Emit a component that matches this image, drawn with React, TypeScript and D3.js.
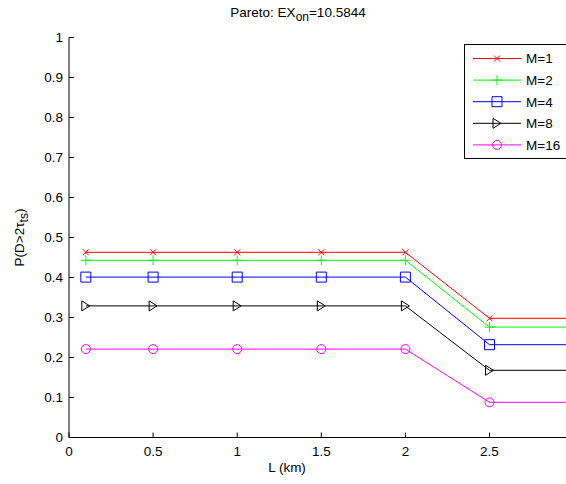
import React from 'react';
import * as d3 from 'd3';

// L (km)
const xValues = [0.1, 0.5, 1, 1.5, 2, 2.5, 3];
const seriesNames = ['M=1', 'M=2', 'M=4', 'M=8', 'M=16'];
const seriesM1 = [0.463, 0.463, 0.463, 0.463, 0.463, 0.298, 0.298];
const seriesM2 = [0.443, 0.443, 0.443, 0.443, 0.443, 0.276, 0.276];
const seriesM4 = [0.401, 0.401, 0.401, 0.401, 0.401, 0.232, 0.232];
const seriesM8 = [0.329, 0.329, 0.329, 0.329, 0.329, 0.168, 0.168];
const seriesM16 = [0.221, 0.221, 0.221, 0.221, 0.221, 0.088, 0.088];
const xTicks = [0, 0.5, 1, 1.5, 2, 2.5];
const yTicks = [0, 0.1, 0.2, 0.3, 0.4, 0.5, 0.6, 0.7, 0.8, 0.9, 1];

const colors = ['#ff0000', '#00ff00', '#0000ff', '#000000', '#ff00ff'];
const markers = ['x', 'plus', 'square', 'triangle', 'circle'];
const allSeries = [seriesM1, seriesM2, seriesM4, seriesM8, seriesM16];

const width = 566;
const height = 484;
const font = 'Arial, "Liberation Sans", Helvetica, sans-serif';
const fs = 13.5;

const markerPath = (kind: string) => {
  switch (kind) {
    case 'x':
      return 'M-3,-3L3,3M-3,3L3,-3';
    case 'plus':
      return 'M-5,0L5,0M0,-5L0,5';
    case 'square':
      return 'M-5,-5H5V5H-5Z';
    case 'triangle':
      return 'M-4,-5L4,0L-4,5Z';
    default:
      return 'M-4.5,0A4.5,4.5 0 1,0 4.5,0A4.5,4.5 0 1,0 -4.5,0';
  }
};

const Marker = ({ kind, color, x, y }: { kind: string; color: string; x: number; y: number }) => (
  <path d={markerPath(kind)} transform={`translate(${x},${y})`} fill="none" stroke={color} strokeWidth={1} />
);

export default function App() {
  const x = d3.scaleLinear().domain([0, 3]).range([69, 69 + 3 * 168.2]);
  const y = d3.scaleLinear().domain([0, 1]).range([437.5, 37.5]);

  const line = d3.line<number>()
    .x((_, i) => x(xValues[i]))
    .y(d => y(d));

  const legendTop = 58.5;
  const legendStep = 21.6;

  return (
    <svg width={width} height={height} style={{ position: 'absolute', left: 0, top: 0, background: '#fff' }}
      fontFamily={font}>
      <rect width={width} height={height} fill="#fff" />

      {/* title */}
      <text x={298} y={17} fontSize={fs} textAnchor="middle">
        Pareto: EX<tspan dy={4} fontSize={12}>on</tspan><tspan dy={-4}>=10.5844</tspan>
      </text>

      {/* axes */}
      <line x1={x(0)} x2={x(0)} y1={y(1)} y2={y(0)} stroke="#000" />
      <line x1={x(0)} x2={width} y1={y(0)} y2={y(0)} stroke="#000" />
      {yTicks.map(t => (
        <g key={`y${t}`}>
          <line x1={x(0)} x2={x(0) + 5} y1={y(t)} y2={y(t)} stroke="#000" />
          <text x={x(0) - 6} y={y(t)} dy="0.35em" fontSize={fs} textAnchor="end">{d3.format('~g')(t)}</text>
        </g>
      ))}
      {xTicks.map(t => (
        <g key={`x${t}`}>
          <line x1={x(t)} x2={x(t)} y1={y(0)} y2={y(0) - 5} stroke="#000" />
          <text x={x(t)} y={y(0) + 18} fontSize={fs} textAnchor="middle">{d3.format('~g')(t)}</text>
        </g>
      ))}

      {/* axis labels */}
      <text x={287} y={472} fontSize={fs} textAnchor="middle">L (km)</text>
      <text transform={`translate(24,${y(0.5)}) rotate(-90)`} fontSize={fs} textAnchor="middle">
        P(D&gt;2τ<tspan dy={4} fontSize={12}>ts</tspan><tspan dy={-4}>)</tspan>
      </text>

      {/* series */}
      {allSeries.map((s, k) => (
        <g key={seriesNames[k]}>
          <path d={line(s) ?? ''} fill="none" stroke={colors[k]} strokeWidth={1} />
          {s.map((v, i) => (
            <Marker key={i} kind={markers[k]} color={colors[k]} x={x(xValues[i])} y={y(v)} />
          ))}
        </g>
      ))}

      {/* legend */}
      <rect x={464.5} y={44.5} width={120} height={114} fill="#fff" stroke="#000" />
      {seriesNames.map((name, k) => {
        const ly = legendTop + k * legendStep;
        return (
          <g key={`leg${name}`}>
            <line x1={473} x2={521} y1={ly} y2={ly} stroke={colors[k]} />
            <Marker kind={markers[k]} color={colors[k]} x={497} y={ly} />
            <text x={526} y={ly} dy="0.36em" fontSize={fs}>{name}</text>
          </g>
        );
      })}
    </svg>
  );
}
